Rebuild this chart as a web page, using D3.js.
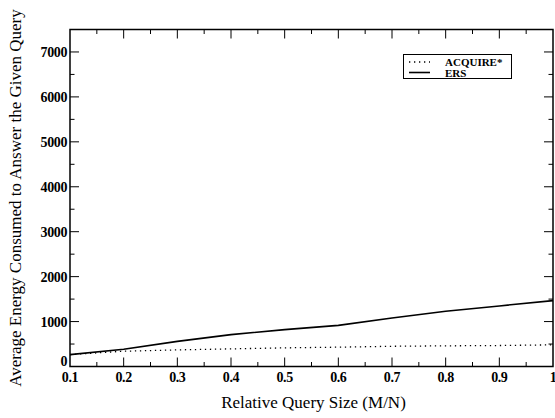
<!DOCTYPE html>
<html><head><meta charset="utf-8">
<script src="https://cdn.jsdelivr.net/npm/d3@7/dist/d3.min.js"></script>
<style>body{margin:0;background:#fff}svg{display:block}</style>
</head><body>
<svg id="c" width="555" height="418" font-family="'Liberation Serif', 'Times New Roman', serif"></svg>
<script>
const querySize = [0.1,0.2,0.3,0.4,0.5,0.6,0.7,0.8,0.9,1.0];
const ersValues = [265,385,560,710,820,915,1080,1230,1348,1467];
const acquireValues = [265,340,370,392,415,430,450,460,467,482];
const seriesNames = ["ACQUIRE*","ERS"];
const xTicks = [0.1,0.2,0.3,0.4,0.5,0.6,0.7,0.8,0.9,1];
const xTickLabels = ["0.1","0.2","0.3","0.4","0.5","0.6","0.7","0.8","0.9","1"];
const yTicks = [0,1000,2000,3000,4000,5000,6000,7000];
const yTickLabels = ["0","1000","2000","3000","4000","5000","6000","7000"];

const svg = d3.select("#c");
const L=70,R=553,T=29.5,B=366.5;
const x = d3.scaleLinear().domain([0.1,1]).range([L,R]);
const y = d3.scaleLinear().domain([0,7500]).range([B,T]);

const g = svg.append("g");
const xMinor = d3.range(0.15,1,0.1);
const yMinor = d3.range(500,7500,1000);
function ticksH(vals,len){
  vals.forEach(v=>{
    g.append("line").attr("x1",x(v)).attr("x2",x(v)).attr("y1",B).attr("y2",B-len).attr("stroke","#000");
    g.append("line").attr("x1",x(v)).attr("x2",x(v)).attr("y1",T).attr("y2",T+len).attr("stroke","#000");
  });
}
function ticksV(vals,len){
  vals.forEach(v=>{
    g.append("line").attr("y1",y(v)).attr("y2",y(v)).attr("x1",L).attr("x2",L+len).attr("stroke","#000");
    g.append("line").attr("y1",y(v)).attr("y2",y(v)).attr("x1",R).attr("x2",R-len).attr("stroke","#000");
  });
}
ticksH(xTicks.slice(1,-1),9); ticksH(xMinor,4.5);
ticksV(yTicks.slice(1),9); ticksV(yMinor,4.5);

xTicks.forEach((v,i)=>{
  g.append("text").attr("x",x(v)).attr("y",B+15.5).attr("text-anchor","middle").attr("font-size",14).attr("font-weight","bold").attr("letter-spacing",-0.4).text(xTickLabels[i]);
});
yTicks.forEach((v,i)=>{
  g.append("text").attr("x",L-3).attr("y",y(v)+(v===0?-1:5)).attr("text-anchor","end").attr("font-size",14).attr("font-weight","bold").attr("letter-spacing",-0.4).text(yTickLabels[i]);
});

const line = d3.line().x((d,i)=>x(querySize[i])).y(d=>y(d));
g.append("path").datum(acquireValues).attr("d",line).attr("fill","none").attr("stroke","#000").attr("stroke-width",1.3).attr("stroke-dasharray","1.3,3.7");
g.append("path").datum(ersValues).attr("d",line).attr("fill","none").attr("stroke","#000").attr("stroke-width",1.6);

g.append("rect").attr("x",L).attr("y",T).attr("width",R-L).attr("height",B-T).attr("fill","none").attr("stroke","#000").attr("stroke-width",1.5);

const lg = g.append("g");
lg.append("rect").attr("x",403.5).attr("y",54.5).attr("width",108).attr("height",24).attr("fill","#fff").attr("stroke","#000");
lg.append("line").attr("x1",409).attr("x2",430).attr("y1",62).attr("y2",62).attr("stroke","#000").attr("stroke-width",1.3).attr("stroke-dasharray","1.3,3.7");
lg.append("line").attr("x1",409).attr("x2",430).attr("y1",72.5).attr("y2",72.5).attr("stroke","#000").attr("stroke-width",1.6);
lg.append("text").attr("x",445).attr("y",65.5).attr("font-size",11).attr("font-weight","bold").text(seriesNames[0]);
lg.append("text").attr("x",445).attr("y",77).attr("font-size",11).attr("font-weight","bold").text(seriesNames[1]);

g.append("text").attr("x",(L+R)/2+2).attr("y",408).attr("text-anchor","middle").attr("font-size",17).text("Relative Query Size (M/N)");
g.append("text").attr("transform","translate(21,198) rotate(-90)").attr("text-anchor","middle").attr("font-size",17).text("Average Energy Consumed to Answer the Given Query");
</script>
</body></html>
